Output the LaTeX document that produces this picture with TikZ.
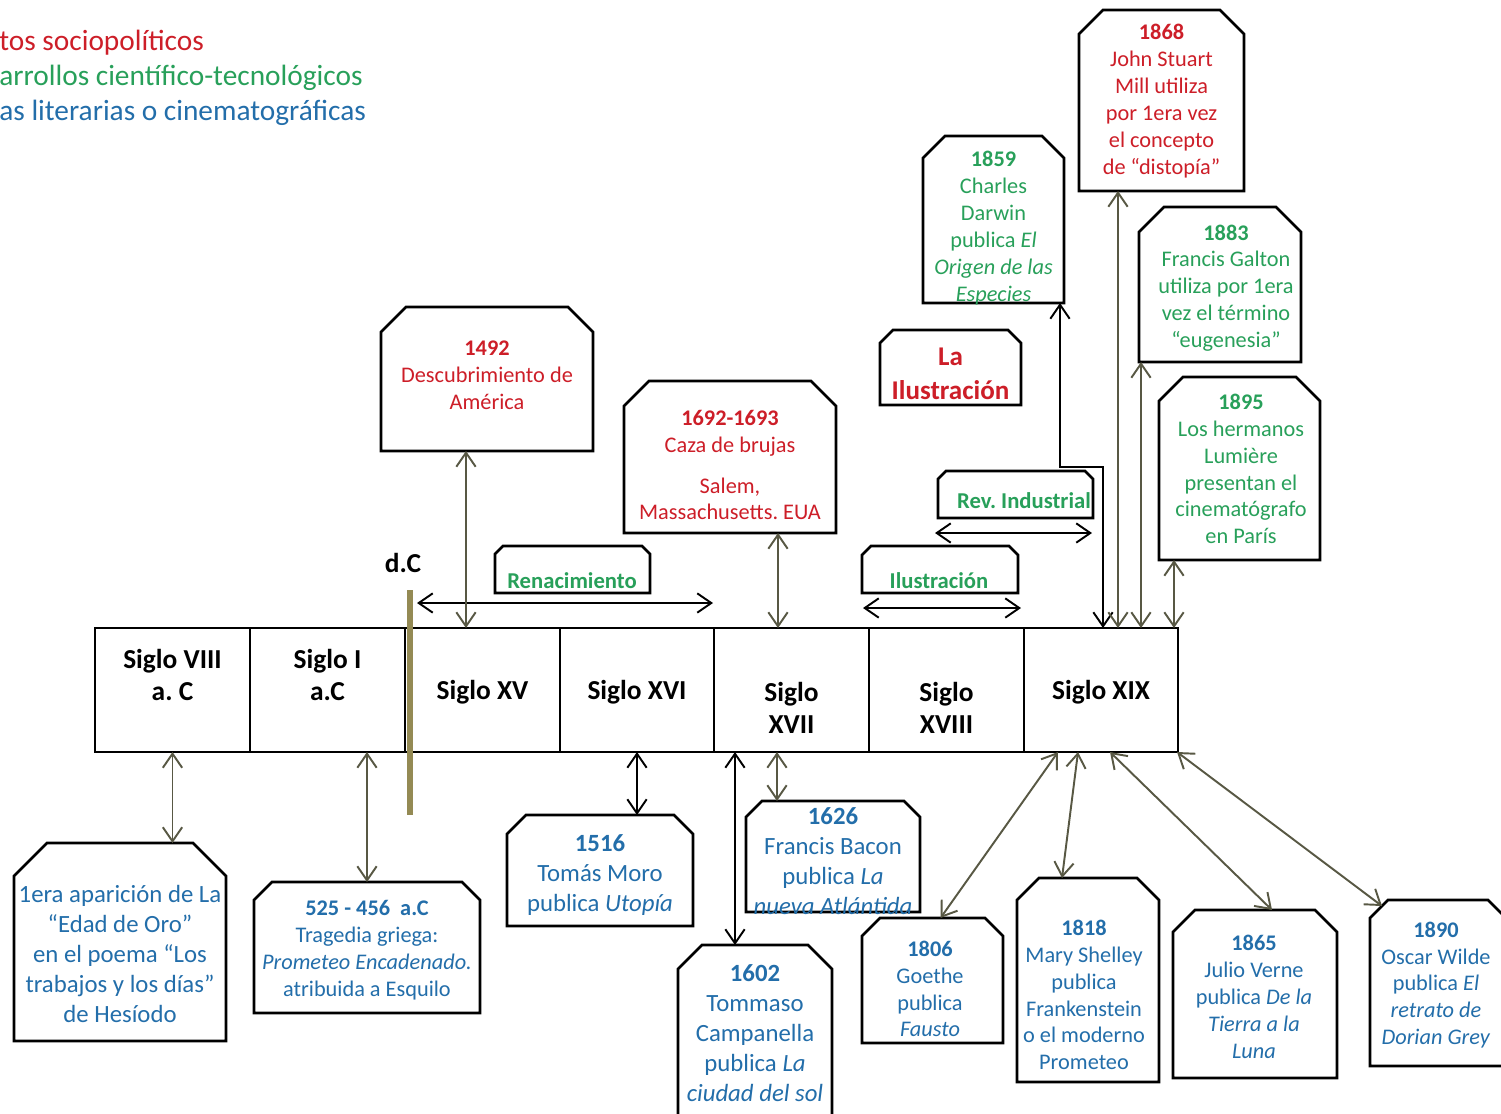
\documentclass[tikz,border=0pt]{standalone}
\usepackage{fontspec}
\setmainfont{Carlito}
\usetikzlibrary{arrows.meta,calc,fit}
\definecolor{cred}{RGB}{205,30,40}
\definecolor{cgreen}{RGB}{40,160,90}
\definecolor{cblue}{RGB}{35,110,170}
\definecolor{conn}{RGB}{88,88,68}
\definecolor{dcbar}{RGB}{148,138,84}
\newcommand\chamfer[2]{\draw[boxline] (#1.south west) -- ($(#1.north west)+(0,#2)$) -- ($(#1.north west)+(#2,0)$) -- ($(#1.north east)+(-#2,0)$) -- ($(#1.north east)+(0,#2)$) -- (#1.south east) -- cycle;}
\begin{document}
\frenchspacing
\begin{tikzpicture}[x=0.02cm,y=-0.02cm,
  >={Straight Barb[length=8pt,width=11pt]},
  boxline/.style={draw=black, line width=1.5pt, line join=miter},
  area/.style={inner sep=0pt, outer sep=0pt},
  cell/.style={draw=black, line width=1.5pt, inner sep=0pt, outer sep=0pt},
  txt/.style={align=center, inner sep=0pt, yshift=-0.06cm, font=\fontsize{12.7}{15.3}\selectfont},
  txtl/.style={align=center, inner sep=0pt, yshift=-0.06cm, font=\fontsize{14.1}{17}\selectfont},
  cent/.style={align=center, inner sep=0pt, yshift=-0.04cm, font=\fontsize{15.6}{18.5}\selectfont\bfseries},
  per/.style={anchor=base, inner sep=0pt, yshift=-0.03cm, font=\fontsize{12.9}{15}\selectfont\bfseries, text=cgreen},
  legend/.style={anchor=base west, inner sep=0pt, yshift=-0.04cm, font=\fontsize{16.7}{20}\selectfont},
  conarr/.style={draw=conn, line width=1.1pt, <->},
  blkarr/.style={draw=black, line width=1.1pt, <->},
]
\useasboundingbox (0,0) rectangle (1501,1113);
\clip (0,0) rectangle (1501,1113);
\fill[white] (0,0) rectangle (1501,1113);

% legend
\node[legend, text=cred] (lg1) at (-1,48) {tos sociopolíticos};
\node[legend, text=cgreen] (lg2) at (-1,83) {arrollos científico-tecnológicos};
\node[legend, text=cblue] (lg3) at (-1,118) {as literarias o cinematográficas};

% timeline cells
\node[cell, fit={(95,628)(250,752)}] (s8) {};
\node[cell, fit={(250,628)(405,752)}] (s1) {};
\node[cell, fit={(405,628)(560,752)}] (s15) {};
\node[cell, fit={(560,628)(714,752)}] (s16) {};
\node[cell, fit={(714,628)(869,752)}] (s17) {};
\node[cell, fit={(869,628)(1024,752)}] (s18) {};
\node[cell, fit={(1024,628)(1178,752)}] (s19) {};
\node[cent] (s8t) at (172.5,673) {Siglo VIII\\a. C};
\node[cent] (s1t) at (327.5,673) {Siglo I\\a.C};
\node[cent] (s15t) at (482.5,690) {Siglo XV};
\node[cent] (s16t) at (637,690) {Siglo XVI};
\node[cent] (s17t) at (791.5,706) {Siglo\\XVII};
\node[cent] (s18t) at (946.5,706) {Siglo\\XVIII};
\node[cent] (s19t) at (1101,690) {Siglo XIX};

% d.C bar
\draw[line width=3.4pt, draw=dcbar] (410,590) -- (410,815);
\node[anchor=base, inner sep=0pt, font=\fontsize{15.6}{18}\selectfont\bfseries] (dC) at (403,572) {d.C};

% upper boxes
\node[area, fit={(381,307)(593,451)}] (b1492) {}; \chamfer{b1492}{25}
\node[txt, text=cred] (t1492) at (487,372) {\textbf{1492}\\Descubrimiento de\\América};

\node[area, fit={(624,381)(836,533)}] (b1692) {}; \chamfer{b1692}{25}
\node[txt, text=cred] (t1692) at (730,462) {\textbf{1692-1693}\\Caza de brujas\\[8pt]Salem,\\Massachusetts. EUA};

\node[area, fit={(923,136)(1064,303)}] (b1859) {}; \chamfer{b1859}{22}
\node[txt, text=cgreen] (t1859) at (993.5,225) {\textbf{1859}\\Charles\\Darwin\\publica \textit{El}\\\textit{Origen de las}\\\textit{Especies}};

\node[area, fit={(1079,10)(1244,191)}] (b1868) {}; \chamfer{b1868}{24}
\node[txt, text=cred] (t1868) at (1161.5,98) {\textbf{1868}\\John Stuart\\Mill utiliza\\por 1era vez\\el concepto\\de “distopía”};

\node[area, fit={(1139,207)(1301,362)}] (b1883) {}; \chamfer{b1883}{25}
\node[txt, text=cgreen] (t1883) at (1226,285) {\textbf{1883}\\Francis Galton\\utiliza por 1era\\vez el término\\“eugenesia”};

\node[area, fit={(1159,377)(1320,560)}] (b1895) {}; \chamfer{b1895}{24}
\node[txt, text=cgreen] (t1895) at (1241,466) {\textbf{1895}\\Los hermanos\\Lumière\\presentan el\\cinematógrafo\\en París};

\node[area, fit={(880,330)(1021,405)}] (bLaI) {}; \chamfer{bLaI}{13}
\node[align=center, inner sep=0pt, yshift=-0.05cm, font=\fontsize{15.4}{19.3}\selectfont\bfseries, text=cred] (tLaI) at (950.5,371) {La\\Ilustración};

\node[area, fit={(938,471)(1093,518)}] (bRev) {}; \chamfer{bRev}{8}
\node[per] (tRev) at (1024,507) {Rev. Industrial};

\node[area, fit={(495,546)(650,593)}] (bRen) {}; \chamfer{bRen}{8}
\node[per] (tRen) at (572,587) {Renacimiento};

\node[area, fit={(862,546)(1018,593)}] (bIlu) {}; \chamfer{bIlu}{9}
\node[per] (tIlu) at (939,587) {Ilustración};

% lower boxes
\node[area, fit={(14,843)(226,1041)}] (b1era) {}; \chamfer{b1era}{33}
\node[txtl, text=cblue] (t1era) at (120,951) {1era aparición de La\\“Edad de Oro”\\en el poema “Los\\trabajos y los días”\\de Hesíodo};

\node[area, fit={(254,882)(480,1013)}] (b525) {}; \chamfer{b525}{18}
\node[txt, text=cblue] (t525) at (367,947) {\textbf{525 - 456\ \ a.C}\\Tragedia griega:\\\textit{Prometeo Encadenado.}\\atribuida a Esquilo};

\node[area, fit={(507,815)(693,926)}] (b1516) {}; \chamfer{b1516}{19}
\node[txtl, text=cblue] (t1516) at (600,872) {\textbf{1516}\\Tomás Moro\\publica \textit{Utopía}};

\node[area, fit={(746,801)(920,912)}] (b1626) {}; \chamfer{b1626}{16}
\node[txtl, text=cblue] (t1626) at (833,858) {\textbf{1626}\\Francis Bacon\\publica \textit{La}\\\textit{nueva Atlántida}};

\node[area, fit={(678,945)(832,1130)}] (b1602) {}; \chamfer{b1602}{24}
\node[txtl, text=cblue] (t1602) at (755,1030) {\textbf{1602}\\Tommaso\\Campanella\\publica \textit{La}\\\textit{ciudad del sol}};

\node[area, fit={(862,918)(1003,1043)}] (b1806) {}; \chamfer{b1806}{18}
\node[txt, text=cblue] (t1806) at (930,986) {\textbf{1806}\\Goethe\\publica\\\textit{Fausto}};

\node[area, fit={(1017,878)(1159,1082)}] (b1818) {}; \chamfer{b1818}{22}
\node[txt, text=cblue] (t1818) at (1084,992) {\textbf{1818}\\Mary Shelley\\publica\\Frankenstein\\o el moderno\\Prometeo};

\node[area, fit={(1173,910)(1337,1078)}] (b1865) {}; \chamfer{b1865}{22}
\node[txt, text=cblue] (t1865) at (1254,994) {\textbf{1865}\\Julio Verne\\publica \textit{De la}\\\textit{Tierra a la}\\\textit{Luna}};

\node[area, fit={(1370,900)(1506,1066)}] (b1890) {}; \chamfer{b1890}{18}
\node[txt, text=cblue] (t1890) at (1436,982) {\textbf{1890}\\Oscar Wilde\\publica \textit{El}\\\textit{retrato de}\\\textit{Dorian Grey}};

% period arrows
\coordinate (r1) at ($(s15.north west)+(12,-25)$);
\coordinate (r2) at ($(s16.north east)+(-1,-25)$);
\draw[blkarr] (r1) -- (r2);
\coordinate (i1) at ($(s18.north west)+(-6,-20)$);
\coordinate (i2) at ($(s18.north east)+(-3,-20)$);
\draw[blkarr] (i1) -- (i2);
\coordinate (v1) at ($(s18.north west)+(66,-95)$);
\coordinate (v2) at ($(s19.north west)+(68,-95)$);
\draw[blkarr] (v1) -- (v2);

% connectors
\coordinate (a8) at (s8.south);
\draw[conarr] (a8) -- (a8 |- b1era.north);
\draw[conarr] (b525.north |- s1.south) -- (b525.north);
\coordinate (a15) at ($(s15.north)+(-16.5,0)$);
\draw[conarr] (a15) -- (a15 |- b1492.south);
\coordinate (a17) at ($(s17.north)+(-13.5,0)$);
\draw[conarr] (a17) -- (a17 |- b1692.south);
\draw[blkarr] (s16.south) -- (s16.south |- b1516.north);
\coordinate (a1602) at ($(s17.south west)+(21,0)$);
\draw[blkarr] (a1602) -- (a1602 |- b1602.north);
\coordinate (a1626) at ($(s17.south)+(-14.5,0)$);
\draw[conarr] (a1626) -- (a1626 |- b1626.north);
\coordinate (d19) at ($(s19.north)+(2,0)$);
\coordinate (dk) at ($(d19)+(0,-161)$);
\coordinate (d59) at ($(b1859.south east)+(-4,0)$);
\draw[blkarr] (d19) -- (dk) -| (d59);
\coordinate (a68) at ($(s19.north)+(17,0)$);
\draw[conarr] (a68) -- (a68 |- b1868.south);
\coordinate (a83) at ($(s19.north)+(40,0)$);
\draw[conarr] (a83) -- (a83 |- b1883.south);
\coordinate (a95) at ($(s19.north)+(73,0)$);
\draw[conarr] (a95) -- (a95 |- b1895.south);
\coordinate (a06) at ($(s19.south)+(-43,0)$);
\coordinate (e06) at ($(b1806.north)+(8,0)$);
\draw[conarr] (a06) -- (e06);
\coordinate (a18) at ($(s19.south)+(-23,0)$);
\coordinate (e18) at ($(b1818.north)+(-26,0)$);
\draw[conarr] (a18) -- (e18);
\coordinate (a65) at ($(s19.south)+(9,0)$);
\coordinate (e65) at ($(b1865.north)+(17,0)$);
\draw[conarr] (a65) -- (e65);
\coordinate (a90) at ($(s19.south east)+(-1,0)$);
\coordinate (e90) at ($(b1890.north west)+(12,6)$);
\draw[conarr] (a90) -- (e90);
\end{tikzpicture}
\end{document}
